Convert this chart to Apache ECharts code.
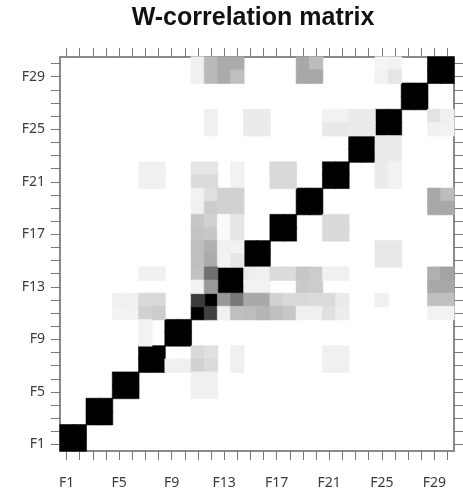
<!DOCTYPE html>
<html>
<head>
<meta charset="utf-8">
<title>W-correlation matrix</title>
<script src="https://cdn.jsdelivr.net/npm/echarts@6/dist/echarts.min.js"></script>
<style>
  html, body { margin: 0; padding: 0; background: #ffffff; }
  #chart { width: 463px; height: 491px; }
</style>
</head>
<body>
<div id="chart"></div>
<script>
// Component names shown on both axes
const components = [
  'F1','F2','F3','F4','F5','F6','F7','F8','F9','F10',
  'F11','F12','F13','F14','F15','F16','F17','F18','F19','F20',
  'F21','F22','F23','F24','F25','F26','F27','F28','F29','F30'
];

// Paired components (sine/cosine pairs) that are almost fully correlated
const pairs = [
  [1, 2], [3, 4], [5, 6], [7, 8], [9, 10], [11, 12], [13, 14], [15, 16],
  [17, 18], [19, 20], [21, 22], [23, 24], [25, 26], [27, 28], [29, 30]
];
// Cross correlation inside each pair: [first vs second, second vs first]
const pairCross = [
  [1, 1], [1, 1], [1, 1], [1, 1], [1, 1], [0.77, 0.75], [1, 1], [1, 1],
  [1, 1], [1, 1], [1, 1], [1, 1], [1, 1], [1, 1], [1, 1]
];

// Remaining w-correlations: [column component, row component, |w|]
const rowsF30F29 = [
  [11, 30, 0.06], [11, 29, 0.06], [12, 30, 0.27], [12, 29, 0.27],
  [13, 30, 0.33], [14, 30, 0.33], [13, 29, 0.33], [14, 29, 0.25],
  [19, 30, 0.34], [20, 30, 0.26], [19, 29, 0.34], [20, 29, 0.34],
  [25, 30, 0.04], [26, 30, 0.05], [25, 29, 0.05], [26, 29, 0.10]
];
const rowsF26F25 = [
  [12, 26, 0.06], [12, 25, 0.06],
  [15, 26, 0.08], [16, 26, 0.08], [15, 25, 0.08], [16, 25, 0.08],
  [21, 26, 0.05], [22, 26, 0.05], [21, 25, 0.09], [22, 25, 0.09],
  [23, 26, 0.08], [24, 26, 0.08], [23, 25, 0.08], [24, 25, 0.08],
  [29, 26, 0.11], [30, 26, 0.06], [29, 25, 0.06], [30, 25, 0.05]
];
const rowsF24F23 = [
  [25, 24, 0.08], [26, 24, 0.08], [25, 23, 0.08], [26, 23, 0.08]
];
const rowsF22F21 = [
  [7, 22, 0.06], [8, 22, 0.06], [7, 21, 0.06], [8, 21, 0.06],
  [11, 22, 0.10], [12, 22, 0.10], [11, 21, 0.14], [12, 21, 0.14],
  [14, 22, 0.05], [14, 21, 0.05],
  [17, 22, 0.15], [18, 22, 0.15], [17, 21, 0.15], [18, 21, 0.15],
  [25, 22, 0.08], [26, 22, 0.05], [25, 21, 0.08], [26, 21, 0.05]
];
const rowsF20F19 = [
  [11, 20, 0.05], [11, 19, 0.06], [12, 20, 0.12], [12, 19, 0.20],
  [13, 20, 0.18], [14, 20, 0.18], [13, 19, 0.18], [14, 19, 0.18],
  [29, 20, 0.34], [30, 20, 0.26], [29, 19, 0.34], [30, 19, 0.34]
];
const rowsF18F17 = [
  [11, 18, 0.22], [11, 17, 0.23], [12, 18, 0.18], [12, 17, 0.22],
  [13, 18, 0.02], [13, 17, 0.02], [14, 18, 0.10], [14, 17, 0.10],
  [21, 18, 0.15], [22, 18, 0.15], [21, 17, 0.15], [22, 17, 0.15]
];
const rowsF16F15 = [
  [11, 16, 0.25], [11, 15, 0.25], [12, 16, 0.31], [12, 15, 0.33],
  [13, 16, 0.06], [13, 15, 0.05], [14, 16, 0.05], [14, 15, 0.10],
  [25, 16, 0.09], [26, 16, 0.09], [25, 15, 0.09], [26, 15, 0.09]
];
const rowsF14F13 = [
  [7, 14, 0.06], [8, 14, 0.06],
  [11, 14, 0.24], [11, 13, 0.05], [12, 14, 0.56], [12, 13, 0.40],
  [15, 14, 0.07], [16, 14, 0.06], [15, 13, 0.05], [16, 13, 0.05],
  [17, 14, 0.14], [18, 14, 0.14],
  [19, 14, 0.22], [20, 14, 0.20], [19, 13, 0.21], [20, 13, 0.20],
  [21, 14, 0.06], [22, 14, 0.06],
  [29, 14, 0.31], [30, 14, 0.36], [29, 13, 0.34], [30, 13, 0.34]
];
const rowsF12F11 = [
  [5, 12, 0.06], [6, 12, 0.06], [5, 11, 0.05], [6, 11, 0.05],
  [7, 12, 0.15], [8, 12, 0.15], [7, 11, 0.18], [8, 11, 0.20],
  [13, 12, 0.40], [13, 11, 0.06], [14, 12, 0.53], [14, 11, 0.25],
  [15, 12, 0.34], [16, 12, 0.34], [15, 11, 0.26], [16, 11, 0.29],
  [17, 12, 0.18], [18, 12, 0.15], [17, 11, 0.25], [18, 11, 0.22],
  [19, 12, 0.15], [20, 12, 0.14], [19, 11, 0.06], [20, 11, 0.06],
  [21, 12, 0.14], [22, 12, 0.08], [21, 11, 0.12], [22, 11, 0.07],
  [25, 12, 0.06],
  [29, 12, 0.25], [30, 12, 0.25], [29, 11, 0.05], [30, 11, 0.05]
];
const rowsF10F9 = [
  [7, 10, 0.05], [7, 9, 0.05]
];
const rowsF8F7 = [
  [9, 7, 0.06], [10, 7, 0.06],
  [11, 8, 0.15], [11, 7, 0.18], [12, 8, 0.12], [12, 7, 0.14],
  [14, 8, 0.06], [14, 7, 0.06],
  [21, 8, 0.06], [22, 8, 0.06], [21, 7, 0.06], [22, 7, 0.06]
];
const rowsF6F5 = [
  [11, 6, 0.06], [12, 6, 0.06], [11, 5, 0.06], [12, 5, 0.06]
];

// Grey scale: 0 -> white, 1 -> black
function shade(v) {
  const g = Math.round(255 * (1 - Math.max(0, Math.min(1, v))));
  return 'rgb(' + g + ',' + g + ',' + g + ')';
}

// Build heatmap items from the tables above; a hairline border of the same
// shade hides the anti-aliased seams between neighbouring cells
const cells = [];
function addCell(col, row, v) {
  const c = shade(v);
  cells.push({
    value: [col - 1, row - 1, v],
    itemStyle: { color: c, borderColor: c, borderWidth: 0.6 }
  });
}
pairs.forEach(function (p, i) {
  const a = p[0], b = p[1];
  addCell(a, a, 1);
  addCell(b, b, 1);
  addCell(a, b, pairCross[i][0]);
  addCell(b, a, pairCross[i][1]);
});
[rowsF30F29, rowsF26F25, rowsF24F23, rowsF22F21, rowsF20F19, rowsF18F17,
 rowsF16F15, rowsF14F13, rowsF12F11, rowsF10F9, rowsF8F7, rowsF6F5].forEach(function (tbl) {
  tbl.forEach(function (c) { addCell(c[0], c[1], c[2]); });
});

const frameColor = '#8a8a8a';
const tickStyle = { show: true, alignWithLabel: true, interval: 0, length: 9, inside: false,
                    lineStyle: { color: '#777777', width: 1 } };
const labelFont = { fontFamily: 'Noto Sans', fontSize: 14, color: '#3a3a3a' };

const chart = echarts.init(document.getElementById('chart'), null, { renderer: 'canvas' });
chart.setOption({
  animation: false,
  backgroundColor: '#ffffff',
  title: {
    text: 'W-correlation matrix',
    left: 253,
    top: 6,
    padding: 0,
    textAlign: 'center',
    textStyle: { fontFamily: 'Liberation Sans', fontWeight: 'bold', fontSize: 25, color: '#111111' }
  },
  grid: { left: 60, top: 57, width: 394, height: 394, containLabel: false },
  xAxis: [
    {
      type: 'category', data: components, position: 'bottom',
      axisLine: { show: true, lineStyle: { color: frameColor, width: 2 } },
      axisTick: tickStyle,
      axisLabel: Object.assign({ interval: 3, margin: 25 }, labelFont),
      splitLine: { show: false }
    },
    {
      type: 'category', data: components, position: 'top',
      axisLine: { show: true, lineStyle: { color: frameColor, width: 2 } },
      axisTick: tickStyle,
      axisLabel: { show: false },
      splitLine: { show: false }
    }
  ],
  yAxis: [
    {
      type: 'category', data: components, position: 'left',
      axisLine: { show: true, lineStyle: { color: frameColor, width: 2 } },
      axisTick: tickStyle,
      axisLabel: Object.assign({ interval: 3, margin: 15 }, labelFont),
      splitLine: { show: false }
    },
    {
      type: 'category', data: components, position: 'right',
      axisLine: { show: true, lineStyle: { color: frameColor, width: 2 } },
      axisTick: tickStyle,
      axisLabel: { show: false },
      splitLine: { show: false }
    }
  ],
  series: [{
    type: 'heatmap',
    xAxisIndex: 0,
    yAxisIndex: 0,
    data: cells,
    progressive: 0,
    emphasis: { disabled: true }
  }]
});
</script>
</body>
</html>
